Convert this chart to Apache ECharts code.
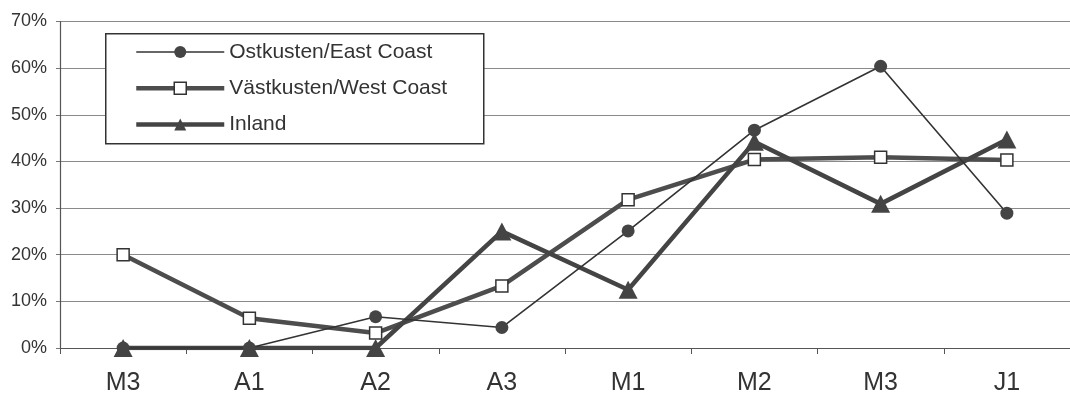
<!DOCTYPE html>
<html>
<head>
<meta charset="utf-8">
<script src="https://cdn.jsdelivr.net/npm/echarts@6/dist/echarts.min.js"></script>
<style>
html,body{margin:0;padding:0;background:#fff;}
#chart{width:1070px;height:396px;}
</style>
</head>
<body>
<div id="chart"></div>
<script>
var categories = ['M3', 'A1', 'A2', 'A3', 'M1', 'M2', 'M3', 'J1'];
var eastCoast = [0, 0, 6.7, 4.4, 25.1, 46.7, 60.4, 28.9];
var westCoast = [20, 6.4, 3.2, 13.3, 31.8, 40.4, 40.9, 40.3];
var inland = [0, 0, 0, 25, 12.5, 44.2, 30.9, 44.7];
var seriesNames = ['Ostkusten/East Coast', 'Västkusten/West Coast', 'Inland'];
var yTicks = [0, 10, 20, 30, 40, 50, 60, 70];

var FONT = '"Liberation Sans", Arial, Helvetica, sans-serif';
var DARK = '#444444';

var styles = [
  {symbol: 'circle', symbolSize: 13, line: {color: '#333333', width: 1.6},
   item: {color: DARK, borderColor: DARK, borderWidth: 0}},
  {symbol: 'rect', symbolSize: 12, line: {color: '#4d4d4d', width: 4.5},
   item: {color: '#ffffff', borderColor: '#333333', borderWidth: 1.5}},
  {symbol: 'triangle', symbolSize: [19, 18], line: {color: DARK, width: 4.5},
   item: {color: DARK, borderColor: DARK, borderWidth: 0}}
];
var seriesData = [eastCoast, westCoast, inland];

var chart = echarts.init(document.getElementById('chart'), null, {renderer: 'canvas'});
var option = {
  animation: false,
  backgroundColor: '#ffffff',
  grid: {left: 60, top: 21.5, width: 1016, height: 326.5, containLabel: false},
  graphic: [{
    type: 'rect',
    left: 105, top: 33,
    shape: {width: 378, height: 110},
    style: {fill: '#ffffff', stroke: '#333333', lineWidth: 1.5},
    z: 10
  }],
  legend: {
    show: true,
    orient: 'vertical',
    left: 134, top: 41.5,
    padding: 0,
    itemGap: 15.2,
    itemWidth: 88,
    itemHeight: 15,
    z: 20,
    data: seriesNames.map(function (n, i) {
      return {
        name: n,
        lineStyle: {color: styles[i].line.color, width: styles[i].line.width},
        itemStyle: {color: styles[i].item.color, borderColor: styles[i].item.borderColor, borderWidth: styles[i].item.borderWidth}
      };
    }),
    textStyle: {fontFamily: FONT, fontSize: 21, color: '#333333'}
  },
  xAxis: {
    type: 'category',
    data: categories,
    boundaryGap: true,
    axisLine: {show: true, lineStyle: {color: '#555555', width: 1.2}},
    axisTick: {show: true, alignWithLabel: false, length: 6, lineStyle: {color: '#555555'}},
    axisLabel: {fontFamily: FONT, fontSize: 25, color: '#333333', margin: 23, interval: 0},
    splitLine: {show: false}
  },
  yAxis: {
    type: 'value',
    min: yTicks[0],
    max: yTicks[yTicks.length - 1],
    interval: 10,
    axisLine: {show: true, lineStyle: {color: '#555555', width: 1.2}},
    axisTick: {show: true, length: 4, inside: false, lineStyle: {color: '#777777'}},
    axisLabel: {fontFamily: FONT, fontSize: 18, color: '#333333', margin: 13, formatter: '{value}%'},
    splitLine: {show: true, lineStyle: {color: '#8a8a8a', width: 1}}
  },
  series: seriesNames.map(function (n, i) {
    return {
      name: n,
      type: 'line',
      data: seriesData[i],
      symbol: styles[i].symbol,
      symbolSize: styles[i].symbolSize,
      lineStyle: styles[i].line,
      itemStyle: styles[i].item,
      z: i === 0 ? 4 : 3
    };
  })
};
chart.setOption(option);
</script>
</body>
</html>
